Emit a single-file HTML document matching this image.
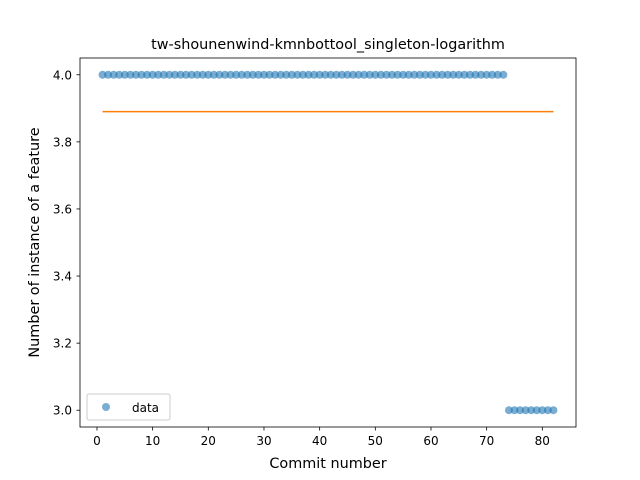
<!DOCTYPE html>
<html><head><meta charset="utf-8"><style>
body{margin:0;background:#fff}
svg{display:block;font-family:"DejaVu Sans","Liberation Sans",sans-serif}
</style></head><body>
<svg id="chart" width="640" height="480" viewBox="0 0 640 480" xmlns="http://www.w3.org/2000/svg">
<rect width="640" height="480" fill="#fff"/>
<text x="328" y="49" font-size="14.4" text-anchor="middle">tw-shounenwind-kmnbottool_singleton-logarithm</text>
<g id="marks"></g>
<rect x="80" y="58" width="496" height="369" fill="none" stroke="#000" stroke-width="0.8"/>
<g id="axes"></g>
<text x="328" y="468" font-size="14.4" text-anchor="middle">Commit number</text>
<text transform="translate(39,242.5) rotate(-90)" font-size="14.4" text-anchor="middle">Number of instance of a feature</text>
<g>
<rect x="87" y="394" width="83" height="26" rx="2" fill="#fff" fill-opacity="0.8" stroke="#ccc" stroke-width="1"/>
<circle cx="106" cy="407" r="4" fill="#1f77b4" fill-opacity="0.6"/>
<text x="132" y="412" font-size="12">data</text>
</g>
</svg>
<script>
const commits = [];
for (let i = 1; i <= 82; i++) commits.push(i);
const values = [4,4,4,4,4,4,4,4,4,4,4,4,4,4,4,4,4,4,4,4,4,4,4,4,4,4,4,4,4,4,4,4,4,4,4,4,4,4,4,4,4,4,4,4,4,4,4,4,4,4,4,4,4,4,4,4,4,4,4,4,4,4,4,4,4,4,4,4,4,4,4,4,4,3,3,3,3,3,3,3,3,3];
const meanValue = [3.890];
const xTicks = [0,10,20,30,40,50,60,70,80];
const yTicks = [3.0,3.2,3.4,3.6,3.8,4.0];
const NS = "http://www.w3.org/2000/svg";
const xMin = -3.05, xMax = 86.05, yMin = 2.95, yMax = 4.05;
const X = v => 80 + (v - xMin) / (xMax - xMin) * 496;
const Y = v => 427 - (v - yMin) / (yMax - yMin) * 369;
function mk(tag, attrs, parent) { const e = document.createElementNS(NS, tag); for (const k in attrs) e.setAttribute(k, attrs[k]); parent.appendChild(e); return e; }
const marks = document.getElementById('marks');
const axes = document.getElementById('axes');
commits.forEach((c, i) => {
  const p = mk('circle', {cx: X(c), cy: Y(values[i]), r: 4, fill: '#1f77b4', 'fill-opacity': 0.6}, marks);
  
  
});
const ln = mk('line', {x1: X(commits[0]), x2: X(commits[commits.length-1]), y1: Y(meanValue[0]), y2: Y(meanValue[0]), stroke: '#ff7f0e', 'stroke-width': 1.5}, marks);


xTicks.forEach(t => {
  const l = mk('line', {x1: X(t), x2: X(t), y1: 427, y2: 430.5, stroke: '#000', 'stroke-width': 0.8}, axes);
  
  
  const tx = mk('text', {x: X(t), y: 445, 'font-size': 12, 'text-anchor': 'middle'}, axes);
  tx.textContent = t;
  
  
});
yTicks.forEach(t => {
  const l = mk('line', {x1: 76.5, x2: 80, y1: Y(t), y2: Y(t), stroke: '#000', 'stroke-width': 0.8}, axes);
  
  
  const tx = mk('text', {x: 72, y: Y(t) + 4.5, 'font-size': 12, 'text-anchor': 'end'}, axes);
  tx.textContent = t.toFixed(1);
  
  
});
</script>
</body></html>
